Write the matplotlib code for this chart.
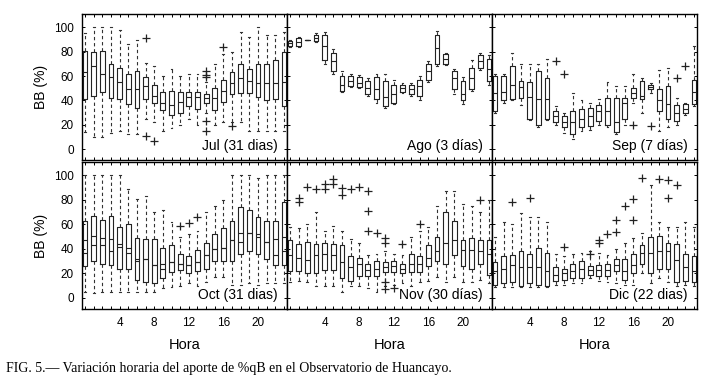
import matplotlib.pyplot as plt
from matplotlib.ticker import MultipleLocator, FixedLocator

plt.rcParams['font.family'] = ['Liberation Sans', 'DejaVu Sans']

hours = list(range(24))
hour_ticks = [4, 8, 12, 16, 20]

month_labels = ['Jul (31 dias)', 'Ago (3 días)', 'Sep (7 días)',
                'Oct (31 dias)', 'Nov (30 días)', 'Dic (22 dias)']

# Jul
jul_lo = [14, 10, 10, 13, 15, 12, 12, 25, 22, 15, 17, 20, 25, 20, 30, 20, 22, 22, 22, 15, 15, 15, 15, 15]
jul_q1 = [41, 44, 47, 42, 41, 37, 34, 41, 38, 32, 28, 30, 35, 33, 38, 32, 39, 45, 46, 46, 43, 40, 41, 35]
jul_med = [63, 68, 62, 59, 55, 49, 49, 52, 44, 38, 36, 39, 43, 43, 42, 42, 48, 54, 58, 56, 54, 54, 54, 55]
jul_q3 = [81, 80, 81, 70, 67, 62, 64, 59, 53, 47, 48, 47, 47, 47, 45, 50, 57, 63, 70, 66, 70, 70, 73, 80]
jul_hi = [95, 100, 100, 100, 98, 86, 90, 71, 68, 60, 66, 60, 62, 62, 55, 70, 78, 80, 96, 92, 100, 94, 94, 96]
jul_out = {7: [91, 11], 8: [7], 14: [64, 61, 59, 23, 15], 16: [84], 17: [19]}

# Ago
ago_lo = [84, 84, 90, 88, 70, 62, 47, 51, 50, 44, 38, 34, 37, 46, 44, 40, 55, 68, 69, 45, 37, 48, 65, 53]
ago_q1 = [85, 85, 90, 89, 73, 64, 48, 52, 51, 45, 41, 35, 38, 47, 45, 44, 57, 70, 70, 49, 40, 49, 67, 56]
ago_med = [87, 88, 90, 91, 85, 72, 53, 56, 54, 50, 49, 43, 45, 50, 49, 52, 64, 83, 74, 58, 45, 58, 72, 66]
ago_q3 = [89, 91, 90, 94, 94, 79, 60, 60, 59, 56, 59, 56, 53, 53, 53, 57, 70, 94, 78, 64, 56, 67, 77, 74]
ago_hi = [90, 92, 90, 95, 96, 82, 64, 62, 61, 58, 62, 62, 57, 54, 54, 60, 72, 97, 79, 66, 59, 73, 79, 77]
ago_out = {}

# Sep
sep_lo = [30, 38, 40, 36, 24, 18, 24, 20, 13, 8, 15, 16, 20, 18, 12, 20, 38, 30, 46, 15, 18, 20, 28, 35]
sep_q1 = [31, 40, 41, 42, 25, 20, 25, 22, 18, 12, 18, 19, 23, 20, 14, 25, 42, 41, 49, 31, 25, 23, 30, 37]
sep_med = [46, 47, 53, 51, 43, 41, 41, 27, 22, 22, 25, 27, 31, 31, 22, 38, 46, 44, 51, 40, 37, 30, 33, 47]
sep_q3 = [60, 60, 68, 56, 55, 64, 58, 31, 27, 31, 33, 34, 36, 42, 42, 42, 50, 56, 53, 49, 52, 36, 37, 57]
sep_hi = [62, 62, 79, 70, 70, 70, 74, 35, 30, 46, 40, 38, 41, 55, 52, 52, 62, 58, 54, 65, 67, 42, 38, 85]
sep_out = {7: [72], 8: [62], 16: [20], 18: [19], 21: [58], 22: [68]}

# Oct
oct_lo = [5, 4, 5, 5, 5, 5, 5, 5, 5, 8, 9, 10, 12, 10, 13, 17, 17, 11, 11, 12, 11, 12, 12, 12]
oct_q1 = [26, 30, 28, 27, 24, 24, 15, 13, 12, 16, 21, 23, 20, 22, 24, 30, 30, 30, 36, 38, 36, 32, 27, 27]
oct_med = [37, 43, 43, 38, 44, 37, 30, 32, 27, 24, 29, 28, 27, 29, 35, 40, 41, 47, 46, 53, 50, 46, 35, 38]
oct_mean = [47, 51, 49, 48, 42, 41, 32, 32, 27, 28, 29, 28, 27, 29, 35, 40, 41, 47, 53, 53, 52, 46, 48, 50]
oct_q3 = [63, 67, 64, 67, 58, 60, 49, 48, 48, 41, 43, 36, 34, 39, 45, 52, 57, 63, 74, 72, 66, 63, 63, 78]
oct_hi = [100, 100, 100, 100, 100, 89, 81, 83, 70, 72, 62, 50, 52, 55, 70, 75, 80, 100, 100, 100, 98, 100, 100, 100]
oct_out = {11: [59], 12: [61], 13: [66]}

# Nov
nov_lo = [13, 14, 13, 10, 10, 10, 5, 10, 10, 8, 5, 10, 11, 12, 10, 13, 14, 17, 13, 17, 13, 13, 15, 12]
nov_q1 = [22, 22, 20, 20, 23, 23, 16, 14, 18, 18, 18, 21, 21, 20, 21, 21, 26, 30, 28, 35, 26, 24, 28, 19]
nov_med = [35, 33, 31, 35, 36, 35, 29, 25, 28, 23, 24, 25, 26, 24, 28, 28, 33, 38, 45, 47, 39, 39, 38, 36]
nov_q3 = [47, 44, 46, 44, 45, 44, 43, 34, 33, 28, 30, 29, 30, 28, 36, 34, 43, 50, 70, 63, 47, 49, 47, 47]
nov_hi = [58, 57, 60, 70, 55, 59, 55, 48, 45, 35, 36, 38, 36, 35, 50, 55, 58, 75, 87, 87, 77, 75, 70, 80]
nov_out = {1: [82, 78], 2: [91], 3: [89], 4: [93, 89], 5: [97, 93], 6: [90, 84],
           7: [89], 8: [91], 9: [87, 71, 55], 10: [53], 11: [49, 45, 13, 7],
           12: [8], 13: [44], 15: [60], 22: [80]}

# Dic
dic_lo = [9, 9, 9, 9, 9, 9, 9, 11, 11, 12, 12, 16, 14, 13, 12, 11, 11, 20, 12, 16, 13, 10, 11, 10]
dic_q1 = [11, 12, 13, 10, 12, 11, 10, 14, 15, 16, 16, 19, 18, 18, 22, 15, 20, 28, 20, 24, 24, 13, 14, 13]
dic_med = [22, 24, 27, 25, 25, 25, 22, 19, 20, 22, 24, 23, 23, 23, 27, 22, 27, 37, 37, 38, 38, 31, 25, 22]
dic_q3 = [29, 34, 35, 38, 36, 41, 37, 25, 24, 28, 30, 26, 27, 28, 32, 32, 36, 43, 50, 51, 45, 44, 36, 34]
dic_hi = [50, 62, 60, 69, 66, 66, 62, 36, 34, 36, 37, 38, 37, 35, 40, 45, 49, 53, 92, 62, 58, 58, 62, 58]
dic_out = {2: [78], 4: [82], 8: [42], 11: [36], 12: [45, 47], 13: [52], 14: [64, 54],
           15: [75], 16: [81, 64], 17: [98], 19: [97], 20: [96, 82], 21: [92]}

months = [
    (jul_lo, jul_q1, jul_med, jul_q3, jul_hi, jul_out, None),
    (ago_lo, ago_q1, ago_med, ago_q3, ago_hi, ago_out, None),
    (sep_lo, sep_q1, sep_med, sep_q3, sep_hi, sep_out, None),
    (oct_lo, oct_q1, oct_med, oct_q3, oct_hi, oct_out, oct_mean),
    (nov_lo, nov_q1, nov_med, nov_q3, nov_hi, nov_out, None),
    (dic_lo, dic_q1, dic_med, dic_q3, dic_hi, dic_out, None),
]

fig = plt.figure(figsize=(7.12, 3.85), dpi=100)

W, H = 712.0, 385.0
lefts = [82, 287, 492]
panel_w = 205
rows = [(14, 160), (162, 309)]

lw = 0.8
for i, (lo, q1, med, q3, hi, out, mean) in enumerate(months):
    r, c = divmod(i, 3)
    top, bot = rows[r]
    ax = fig.add_axes([lefts[c] / W, 1 - bot / H, panel_w / W, (bot - top) / H])

    stats = []
    for h in hours:
        s = dict(whislo=lo[h], q1=q1[h], med=med[h], q3=q3[h], whishi=hi[h],
                 fliers=out.get(h, []))
        if mean is not None:
            s['mean'] = mean[h]
        stats.append(s)

    ax.bxp(stats, positions=hours, widths=0.55, capwidths=0.22,
           showmeans=mean is not None, meanline=True,
           boxprops=dict(color='#222222', lw=lw),
           medianprops=dict(color='#222222', lw=lw),
           meanprops=dict(color='#222222', lw=lw, linestyle='-'),
           whiskerprops=dict(color='#333333', lw=lw, linestyle=(0, (3, 2.5))),
           capprops=dict(color='#333333', lw=lw),
           flierprops=dict(marker='+', markersize=6, markeredgecolor='#222222',
                           markeredgewidth=0.9))

    ax.set_xlim(-0.35, 23.35)
    ax.set_ylim(-9, 111)
    ax.xaxis.set_major_locator(FixedLocator(hour_ticks))
    ax.set_xticklabels([str(t) for t in hour_ticks])
    ax.xaxis.set_minor_locator(MultipleLocator(1))
    ax.yaxis.set_major_locator(MultipleLocator(20))
    ax.tick_params(which='both', direction='in', top=True, right=True,
                   length=2.5, width=0.7, labelsize=8.5, pad=6)
    for sp in ax.spines.values():
        sp.set_linewidth(1.0)

    if c == 0:
        ax.set_ylabel('BB (%)', fontsize=10)
    else:
        ax.tick_params(labelleft=False)
    if r == 0:
        ax.tick_params(labelbottom=False)
    else:
        ax.set_xlabel('Hora', fontsize=10.5, labelpad=6)

    ax.text(0.955, 0.045, month_labels[i], transform=ax.transAxes,
            ha='right', va='bottom', fontsize=10)

fig.text(0.008, 0.042, 'FIG. 5.— Variación horaria del aporte de %qB en el Observatorio de Huancayo.',
         family='Liberation Serif', fontsize=10, ha='left', va='center')

fig.savefig('out.png', dpi=100)
